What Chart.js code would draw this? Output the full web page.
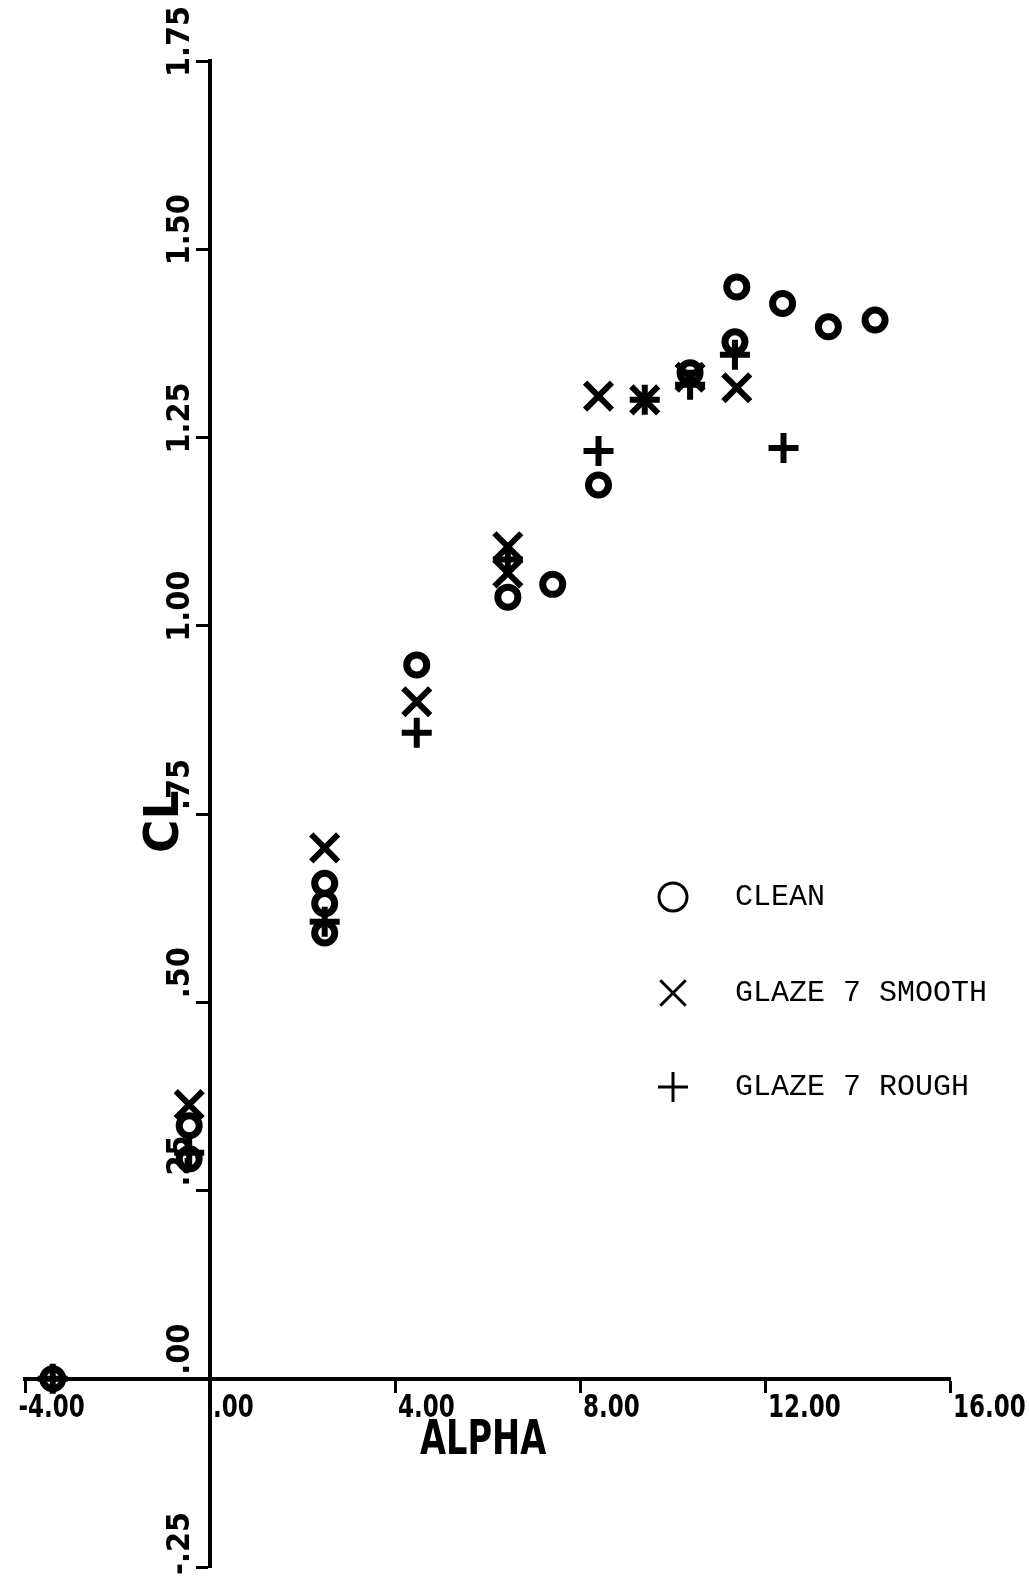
<!DOCTYPE html>
<html>
<head>
<meta charset="utf-8">
<title>CL vs ALPHA</title>
<script src="https://cdn.jsdelivr.net/npm/chart.js@4.4.1/dist/chart.umd.min.js"></script>
<style>
  html, body { margin: 0; padding: 0; background: #fff; }
  canvas { display: block; }
</style>
</head>
<body>
<canvas id="clChart" width="1029" height="1592"></canvas>
<script>
// angle of attack (deg) and lift coefficient for each condition
var cleanAlpha = [-3.4, -0.45, -0.45, 2.48, 2.48, 2.48, 4.47, 6.44, 7.41, 8.40, 10.38, 11.35, 11.39, 12.38, 13.37, 14.38];
var cleanCL    = [0.0, 0.336, 0.292, 0.658, 0.631, 0.592, 0.948, 1.038, 1.055, 1.187, 1.336, 1.377, 1.450, 1.428, 1.397, 1.406];

var smoothAlpha = [-0.45, 2.48, 4.47, 6.44, 6.44, 8.40, 9.40, 10.38, 11.39];
var smoothCL    = [0.364, 0.705, 0.899, 1.105, 1.070, 1.305, 1.300, 1.330, 1.316];

var roughAlpha = [-3.4, -0.45, 2.48, 4.47, 6.44, 8.40, 9.40, 10.38, 11.35, 12.40];
var roughCL    = [0.0, 0.300, 0.607, 0.858, 1.088, 1.232, 1.300, 1.320, 1.360, 1.236];

var xTicks = [-4, 0, 4, 8, 12, 16];
var xTickLabels = ["-4.00", ".00", "4.00", "8.00", "12.00", "16.00"];
var yTicks = [-0.25, 0, 0.25, 0.5, 0.75, 1.0, 1.25, 1.5, 1.75];
var yTickLabels = ["-.25", ".00", ".25", ".50", ".75", "1.00", "1.25", "1.50", "1.75"];

var seriesNames = ["CLEAN", "GLAZE 7 SMOOTH", "GLAZE 7 ROUGH"];

function toPoints(xs, ys) {
    return xs.map(function (x, i) { return { x: x, y: ys[i] }; });
}

var plotFont = "bold 32px 'DejaVu Sans', sans-serif";
var titleFont = "bold 48px 'DejaVu Sans', sans-serif";

// narrow plotter-style text
function narrowText(ctx, text, x, y, rot, squeeze, font, align) {
    ctx.save();
    ctx.translate(x, y);
    ctx.rotate(rot);
    ctx.scale(squeeze, 1);
    ctx.font = font;
    ctx.textAlign = align || "left";
    ctx.textBaseline = "middle";
    ctx.fillStyle = "#000";
    ctx.fillText(text, 0, 0);
    ctx.restore();
}

var axisText = {
    id: "axisText",
    afterDraw: function (chart) {
        var ctx = chart.ctx;
        var xs = chart.scales.x, ys = chart.scales.y;
        var y0 = ys.getPixelForValue(0);
        var x0 = xs.getPixelForValue(0);
        var xSqueeze = 0.72, ySqueeze = 0.9;

        ctx.save();
        ctx.font = plotFont;
        var dash = ctx.measureText("-").width * xSqueeze;
        ctx.restore();

        // x labels start at their tick, y labels end a little above theirs
        xTicks.forEach(function (v, i) {
            var px = xs.getPixelForValue(v) + 3;
            if (v < 0) px -= dash;
            narrowText(ctx, xTickLabels[i], px, y0 + 30, 0, xSqueeze, plotFont);
        });
        yTicks.forEach(function (v, i) {
            var py = ys.getPixelForValue(v) - 55;
            narrowText(ctx, yTickLabels[i], x0 - 29, py, -Math.PI / 2, ySqueeze, plotFont, "right");
        });

        narrowText(ctx, "ALPHA", 420, 1442, 0, 0.7, titleFont);
        narrowText(ctx, "CL", 166, 853, -Math.PI / 2, 0.95, titleFont);

        // key
        var keyY = [897, 993, 1087];
        var keyR = [14, 18, 15];
        chart.data.datasets.forEach(function (ds, i) {
            ctx.save();
            ctx.strokeStyle = "#000";
            ctx.fillStyle = "rgba(0,0,0,0)";
            ctx.lineWidth = 3;
            Chart.helpers.drawPoint(ctx, { pointStyle: ds.pointStyle, radius: keyR[i], borderWidth: 3, rotation: 0 }, 673, keyY[i]);
            ctx.restore();

            ctx.save();
            ctx.font = "30px 'Liberation Mono', monospace";
            ctx.fillStyle = "#000";
            ctx.textBaseline = "middle";
            ctx.fillText(ds.label, 735, keyY[i]);
            ctx.restore();
        });
    }
};

new Chart(document.getElementById("clChart"), {
    type: "scatter",
    data: {
        datasets: [{
            label: seriesNames[0],
            data: toPoints(cleanAlpha, cleanCL),
            pointStyle: "circle",
            pointRadius: 10,
            borderWidth: 7,
            borderColor: "#000",
            backgroundColor: "rgba(0,0,0,0)"
        }, {
            label: seriesNames[1],
            data: toPoints(smoothAlpha, smoothCL),
            pointStyle: "crossRot",
            pointRadius: 19,
            borderWidth: 6,
            borderColor: "#000",
            backgroundColor: "rgba(0,0,0,0)"
        }, {
            label: seriesNames[2],
            data: toPoints(roughAlpha, roughCL),
            pointStyle: "cross",
            pointRadius: 15,
            borderWidth: 6,
            borderColor: "#000",
            backgroundColor: "rgba(0,0,0,0)"
        }]
    },
    options: {
        responsive: false,
        animation: false,
        layout: { padding: { left: 25, right: 79, top: 61, bottom: 25 } },
        plugins: {
            legend: { display: false },
            tooltip: { enabled: false }
        },
        scales: {
            x: {
                type: "linear",
                min: -4,
                max: 16,
                position: { y: 0 },
                ticks: { display: false, stepSize: 4 },
                grid: { drawOnChartArea: false, drawTicks: true, tickLength: 12, tickWidth: 3, tickColor: "#000" },
                border: { color: "#000", width: 4 }
            },
            y: {
                type: "linear",
                min: -0.25,
                max: 1.75,
                position: { x: 0 },
                ticks: { display: false, stepSize: 0.25 },
                grid: { drawOnChartArea: false, drawTicks: true, tickLength: 12, tickWidth: 3, tickColor: "#000" },
                border: { color: "#000", width: 4 }
            }
        }
    },
    plugins: [axisText]
});
</script>
</body>
</html>
